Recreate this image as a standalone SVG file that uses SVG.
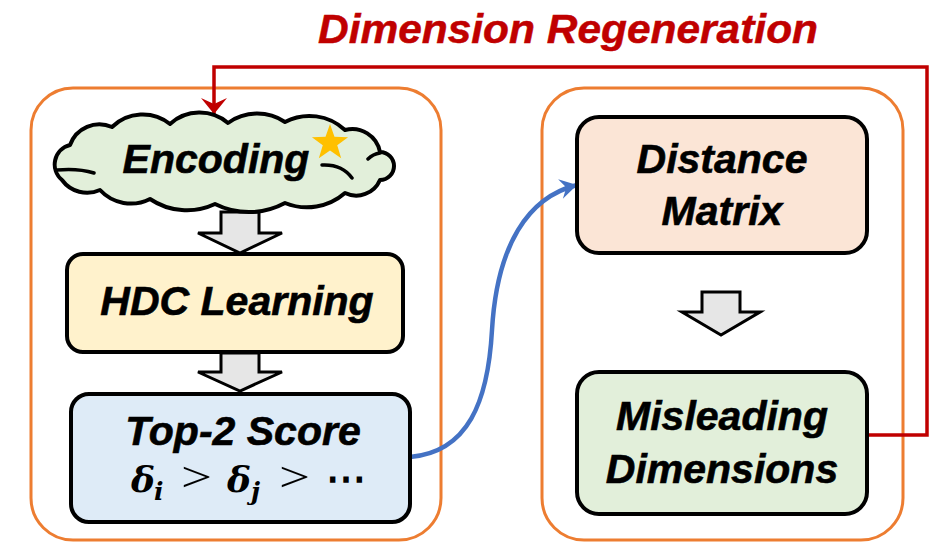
<svg xmlns="http://www.w3.org/2000/svg" width="938" height="542" viewBox="0 0 938 542">
  <style>
    .panel { fill: none; stroke: #ed7d31; stroke-width: 3; }
    .box { stroke: #000; stroke-width: 4; }
    .blk { fill: #e6e6e6; stroke: #000; stroke-width: 3; stroke-linejoin: miter; }
    .lbl { font-family: "Liberation Sans", Arial, sans-serif; font-weight: bold; font-style: italic; font-size: 41px; fill: #000; stroke: #000; stroke-width: 0.6; text-anchor: middle; }
    .greek { font-family: "DejaVu Serif", "Liberation Serif", serif; font-weight: bold; font-style: italic; fill: #000; }
    .rel { font-family: "Liberation Serif", "Times New Roman", serif; fill: #000; }
    .title { font-family: "Liberation Sans", Arial, sans-serif; font-weight: bold; font-style: italic; font-size: 41px; fill: #c00000; stroke: #c00000; stroke-width: 0.5; }
  </style>
  <defs>
    <marker id="redHead" markerUnits="userSpaceOnUse" markerWidth="30" markerHeight="30" refX="0" refY="0" viewBox="-17 -15 19 30" orient="auto">
      <path d="M0,0 L-16,-13 L-10,0 L-16,13 Z" fill="#c00000"/>
    </marker>
    <marker id="blueHead" markerUnits="userSpaceOnUse" markerWidth="24" markerHeight="24" refX="0" refY="0" viewBox="-18 -12 20 24" orient="auto">
      <path d="M0,0 L-17,-10 L-11,0 L-17,10 Z" fill="#4472c4"/>
    </marker>
  </defs>

  <!-- title -->
  <text class="title" x="318" y="43" textLength="500" lengthAdjust="spacingAndGlyphs">Dimension Regeneration</text>

  <!-- panels -->
  <rect class="panel" x="31" y="88" width="410" height="452" rx="42"/>
  <rect class="panel" x="542" y="88" width="361" height="452" rx="42"/>

  <!-- connectors -->
  <g id="connectors">
    <path d="M867,435 H927 V67 H214 V114" fill="none" stroke="#c00000" stroke-width="3.5" marker-end="url(#redHead)"/>
    <path d="M410,457 C468,452 488,402 492,330 C497,245 528,197 577,185" fill="none" stroke="#4472c4" stroke-width="4.5" marker-end="url(#blueHead)"/>
    <path class="blk" d="M221,212 H259 V233 H282 L240,253 L198,233 H221 Z"/>
    <path class="blk" d="M221,353 H259 V372 H282 L240,391 L198,372 H221 Z"/>
    <path class="blk" d="M702,292 H740 V312 H760 L721,335 L682,312 H702 Z"/>
  </g>

  <!-- Encoding cloud -->
  <g id="encoding">
    <path class="box" fill="#e2efda" stroke-linejoin="round" d="M62,180 A20.1,20.1 0 0 1 70,145 A31.1,31.1 0 0 1 112,127 A44,44 0 0 1 170,124 A44,44 0 0 1 228,123 A50,50 0 0 1 285,122 A52,52 0 0 1 345,130 A28.2,28.2 0 0 1 380,152 A14,14 0 0 1 380,180 A25.8,25.8 0 0 1 345,193 A58,58 0 0 1 285,203 A76,76 0 0 1 215,204 A66,66 0 0 1 150,199 A42,42 0 0 1 100,190 A31.1,31.1 0 0 1 62,180 Z"/>
    <!-- inner lobe strokes -->
    <path d="M57,170 Q78,168 94,173 M380,153 Q373,154 368,159 M322,165 Q342,164 352,178" fill="none" stroke="#000" stroke-width="3.5" stroke-linecap="round"/>
    <text class="lbl" x="216" y="173">Encoding</text>
    <polygon fill="#ffc000" points="330,124 334.47,136.85 348.07,137.13 337.23,145.35 341.17,158.37 330,150.6 318.83,158.37 322.77,145.35 311.93,137.13 325.53,136.85"/>
  </g>

  <!-- HDC Learning -->
  <g id="hdc">
    <rect class="box" x="67" y="254" width="336" height="98" rx="16" fill="#fff2cc"/>
    <text class="lbl" x="237" y="315">HDC Learning</text>
  </g>

  <!-- Top-2 Score -->
  <g id="top2">
    <rect class="box" x="71" y="394" width="339" height="128" rx="18" fill="#deebf7"/>
    <text class="lbl" x="243" y="445">Top-2 Score</text>
    <text class="greek" x="131" y="492" font-size="36">δ</text>
    <text class="greek" x="154" y="500" font-size="25">i</text>
    <text class="rel" x="181" y="491" font-size="42" textLength="31" lengthAdjust="spacingAndGlyphs">&gt;</text>
    <text class="greek" x="227" y="492" font-size="36">δ</text>
    <text class="greek" x="251" y="500" font-size="25">j</text>
    <text class="rel" x="279" y="491" font-size="42" textLength="31" lengthAdjust="spacingAndGlyphs">&gt;</text>
    <text class="rel" x="326" y="492" font-size="40" font-weight="bold">⋯</text>
  </g>

  <!-- Distance Matrix -->
  <g id="distance">
    <rect class="box" x="577" y="117" width="290" height="136" rx="22" fill="#fbe5d6"/>
    <text class="lbl" x="722" y="173" font-size="42">Distance</text>
    <text class="lbl" x="722" y="225" font-size="42">Matrix</text>
  </g>

  <!-- Misleading Dimensions -->
  <g id="misleading">
    <rect class="box" x="577" y="372" width="290" height="142" rx="22" fill="#e2efda"/>
    <text class="lbl" x="722" y="430" font-size="42">Misleading</text>
    <text class="lbl" x="722" y="483" font-size="42">Dimensions</text>
  </g>
</svg>
